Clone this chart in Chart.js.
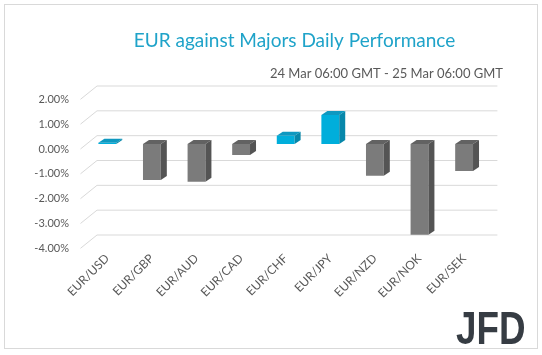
<!DOCTYPE html>
<html>
<head>
<meta charset="utf-8">
<script src="https://cdn.jsdelivr.net/npm/chart.js@4"></script>
<style>
  html, body { margin: 0; padding: 0; background: #ffffff; }
  #wrap { position: relative; width: 542px; height: 355px; }
</style>
</head>
<body>
<div id="wrap"><canvas id="c" width="542" height="355"></canvas></div>
<script>
const TITLE = 'EUR against Majors Daily Performance';
const SUBTITLE = '24 Mar 06:00 GMT - 25 Mar 06:00 GMT';
const CATEGORIES = ['EUR/USD', 'EUR/GBP', 'EUR/AUD', 'EUR/CAD', 'EUR/CHF', 'EUR/JPY', 'EUR/NZD', 'EUR/NOK', 'EUR/SEK'];
const VALUES = [0.05, -1.45, -1.52, -0.44, 0.33, 1.17, -1.28, -3.66, -1.09];
const Y_TICKS = [2, 1, 0, -1, -2, -3, -4];
const LOGO = 'JFD';

const POS = { front: '#00aedb', side: '#0787aa', top: '#0e98c0' };
const NEG = { front: '#7b7b7b', side: '#545454', top: '#626262' };

const depth3d = {
  id: 'depth3d',
  beforeDraw(chart) {
    const ctx = chart.ctx;
    ctx.save();
    ctx.fillStyle = '#ffffff';
    ctx.fillRect(0, 0, chart.width, chart.height);
    ctx.strokeStyle = '#d9d9d9';
    ctx.lineWidth = 1;
    ctx.strokeRect(4.5, 4.5, 533, 344);
    ctx.restore();
  },
  afterLayout(chart) {
    chart.boxes.forEach(b => {
      if (b.options && b.options.text === TITLE) {
        b.left = 294.5 - 220; b.right = 294.5 + 220;
      } else if (b.options && b.options.text === SUBTITLE) {
        b.left = 200; b.right = 503;
      }
    });
  },
  beforeDatasetsDraw(chart) {
    const ctx = chart.ctx;
    const ys = chart.scales.y;
    const a = chart.chartArea;
    ctx.save();
    ctx.strokeStyle = '#d9d9d9';
    ctx.lineWidth = 1;
    Y_TICKS.forEach(v => {
      const yb = ys.getPixelForValue(v);
      ctx.beginPath();
      ctx.moveTo(a.left - 4.5, yb + 5);
      ctx.lineTo(a.left + 12, yb - 8.3);
      ctx.lineTo(a.right + 11, yb - 8.3);
      ctx.stroke();
    });
    ctx.restore();
  },
  afterDatasetsDraw(chart) {
    const ctx = chart.ctx;
    const meta = chart.getDatasetMeta(0);
    const dx = 6, dy = -4;
    ctx.save();
    meta.data.forEach((bar, i) => {
      const p = bar.getProps(['x', 'y', 'base', 'width'], true);
      const c = VALUES[i] >= 0 ? POS : NEG;
      const l = p.x - p.width / 2, r = p.x + p.width / 2;
      const t = Math.min(p.y, p.base), b = Math.max(p.y, p.base);
      ctx.fillStyle = c.top;
      ctx.beginPath();
      ctx.moveTo(l, t); ctx.lineTo(r, t); ctx.lineTo(r + dx, t + dy); ctx.lineTo(l + dx, t + dy);
      ctx.closePath(); ctx.fill();
      ctx.fillStyle = c.side;
      ctx.beginPath();
      ctx.moveTo(r, t); ctx.lineTo(r + dx, t + dy); ctx.lineTo(r + dx, b + dy); ctx.lineTo(r, b);
      ctx.closePath(); ctx.fill();
    });
    ctx.restore();
  },
  afterDraw(chart) {
    const ctx = chart.ctx;
    ctx.save();
    ctx.fillStyle = '#363c43';
    ctx.font = 'bold 46px "Liberation Sans", Arial, sans-serif';
    ctx.textBaseline = 'alphabetic';
    ctx.translate(456, 343.5);
    ctx.scale(0.8, 1);
    ctx.fillText(LOGO, 0, 0);
    ctx.restore();
  }
};

new Chart(document.getElementById('c'), {
  type: 'bar',
  data: {
    labels: CATEGORIES,
    datasets: [{
      data: VALUES,
      backgroundColor: VALUES.map(v => v >= 0 ? POS.front : NEG.front),
      borderWidth: 0,
      barPercentage: 0.4,
      categoryPercentage: 1.0
    }]
  },
  options: {
    responsive: false,
    animation: false,
    devicePixelRatio: 1,
    layout: { padding: { left: 0, right: 55.6, top: 0, bottom: 0 } },
    plugins: {
      legend: { display: false },
      tooltip: { enabled: false },
      title: {
        display: true,
        text: TITLE,
        color: '#1fa3c9',
        font: { family: 'Lato', size: 19, weight: 'normal', lineHeight: 1.2 },
        padding: { top: 29.6, bottom: 0 }
      },
      subtitle: {
        display: true,
        text: SUBTITLE,
        align: 'end',
        color: '#595959',
        font: { family: 'Lato', size: 13, weight: 'normal', lineHeight: 1.2 },
        padding: { top: 13.8, bottom: 12.5 }
      }
    },
    scales: {
      x: {
        grid: { display: false, drawTicks: false },
        border: { display: false },
        ticks: {
          color: '#595959',
          font: { family: 'Lato', size: 12 },
          minRotation: 45,
          maxRotation: 45,
          padding: 8
        },
        afterFit(scale) { scale.height = 355 - 243.3; }
      },
      y: {
        min: -4,
        max: 2,
        afterBuildTicks(scale) { scale.ticks = Y_TICKS.map(v => ({ value: v })); },
        grid: { display: false, drawTicks: false },
        border: { display: false },
        ticks: {
          color: '#595959',
          font: { family: 'Lato', size: 11 },
          padding: 16,
          labelOffset: 5,
          callback: v => v.toFixed(2) + '%'
        },
        afterFit(scale) { scale.width = 85; }
      }
    }
  },
  plugins: [depth3d]
});
</script>
</body>
</html>
